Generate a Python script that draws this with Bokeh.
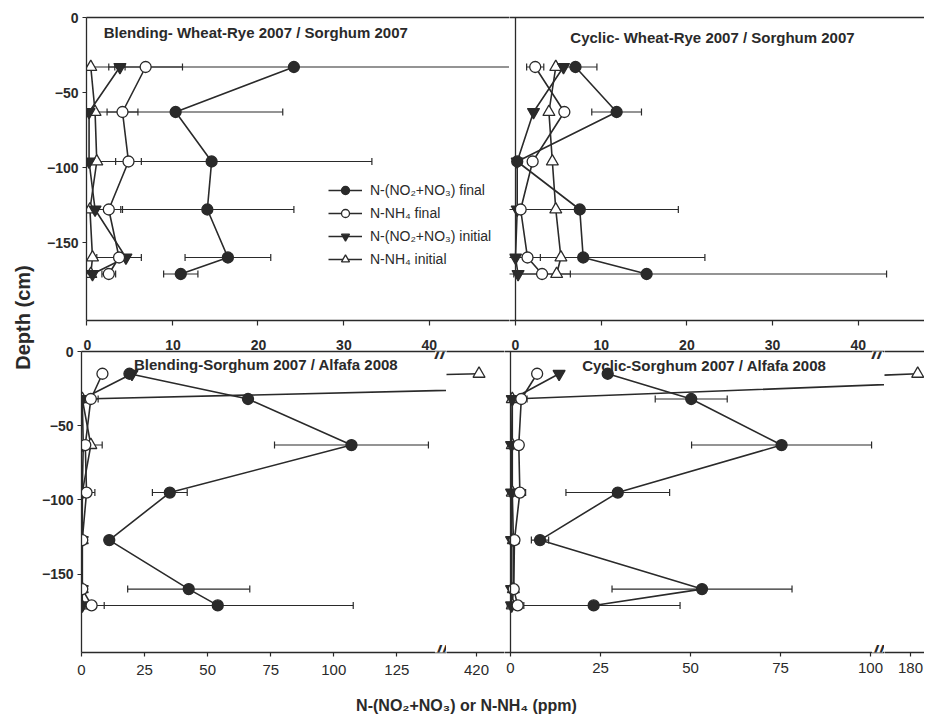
import math
from bokeh.plotting import figure
from bokeh.models import Range1d, LinearAxis, FixedTicker, Label, Span, Legend, LegendItem
from bokeh.layouts import row, column
from bokeh.embed import file_html
from bokeh.resources import INLINE

# ---------------- data ----------------
SERIES = ["N-(NO₂+NO₃) final", "N-NH₄ final", "N-(NO₂+NO₃) initial", "N-NH₄ initial"]
Y_LABEL = "Depth (cm)"
X_LABEL = "N-(NO₂+NO₃) or N-NH₄ (ppm)"
DEPTH_TICKS = [0, -50, -100, -150]
TOP_X_TICKS = [0, 10, 20, 30, 40]
BL_X_TICKS = [0, 25, 50, 75, 100, 125]
BL_BREAK_TICKS = [420]
BR_X_TICKS = [0, 25, 50, 75, 100]
BR_BREAK_TICKS = [180]

TOP_DEPTH = [-33, -63, -96, -128, -160, -171]
BOTTOM_DEPTH = [-15, -32, -63, -95, -127, -160, -171]

TL_TITLE = "Blending- Wheat-Rye 2007 / Sorghum 2007"
TL_NO3_FINAL = [24.2, 10.4, 14.6, 14.1, 16.5, 11.0]
TL_NO3_FINAL_ERR = [30.0, 12.5, 18.7, 10.1, 5.0, 2.0]
TL_NH4_FINAL = [6.9, 4.2, 4.9, 2.6, 3.8, 2.6]
TL_NH4_FINAL_ERR = [4.3, 1.8, 1.5, 1.6, 2.6, 0.8]
TL_NO3_INIT = [3.9, 0.3, 0.3, 1.0, 4.6, 0.7]
TL_NO3_INIT_ERR = [0.6, 0.0, 0.0, 0.0, 0.0, 0.0]
TL_NH4_INIT = [0.5, 1.0, 1.2, 0.4, 0.7, 0.5]
TL_NH4_INIT_ERR = [0.0, 0.0, 0.0, 0.0, 0.0, 0.0]

TR_TITLE = "Cyclic- Wheat-Rye 2007 / Sorghum 2007"
TR_NO3_FINAL = [7.0, 11.8, 0.2, 7.5, 7.9, 15.3]
TR_NO3_FINAL_ERR = [2.5, 2.9, 0.0, 11.5, 14.2, 28.0]
TR_NH4_FINAL = [2.3, 5.7, 2.0, 0.6, 1.4, 3.1]
TR_NH4_FINAL_ERR = [1.0, 0.0, 0.0, 0.0, 1.5, 3.3]
TR_NO3_INIT = [5.6, 2.1, 0.2, 0.2, 0.0, 0.3]
TR_NO3_INIT_ERR = [0.0, 0.0, 0.0, 0.0, 0.0, 0.0]
TR_NH4_INIT = [4.7, 3.9, 4.3, 4.7, 5.3, 4.8]
TR_NH4_INIT_ERR = [0.0, 0.0, 0.0, 0.0, 0.0, 0.0]

BL_TITLE = "Blending-Sorghum 2007 / Alfafa 2008"
BL_NO3_FINAL = [19.0, 66.0, 107.0, 35.0, 11.0, 42.5, 54.0]
BL_NO3_FINAL_ERR = [0.0, 0.0, 30.5, 6.9, 1.0, 24.2, 53.7]
BL_NH4_FINAL = [8.3, 3.7, 1.5, 2.0, 0.3, 0.3, 4.0]
BL_NH4_FINAL_ERR = [0.0, 2.9, 0.0, 3.3, 0.0, 0.0, 5.0]
BL_NO3_INIT = [20.0, 0.3, 0.7, 0.3, 0.3, 0.3, 0.3]
BL_NO3_INIT_ERR = [0.0, 0.0, 0.0, 0.0, 0.0, 0.0, 0.0]
BL_NH4_INIT = [421.0, 0.3, 3.7, 0.3, 0.3, 0.3, 0.0]
BL_NH4_INIT_ERR = [0.0, 0.0, 4.5, 0.0, 0.0, 0.0, 0.0]

BR_TITLE = "Cyclic-Sorghum 2007 / Alfafa 2008"
BR_NO3_FINAL = [27.0, 50.2, 75.3, 29.8, 8.2, 53.2, 23.1]
BR_NO3_FINAL_ERR = [0.0, 10.0, 25.0, 14.4, 2.4, 25.0, 24.0]
BR_NH4_FINAL = [7.4, 3.0, 2.3, 2.6, 1.1, 0.9, 2.0]
BR_NH4_FINAL_ERR = [0.0, 1.6, 0.0, 1.6, 0.0, 0.0, 1.7]
BR_NO3_INIT = [13.5, 0.5, 0.3, 0.3, 0.3, 0.3, 0.3]
BR_NO3_INIT_ERR = [0.0, 0.0, 0.0, 0.0, 0.0, 0.0, 0.0]
BR_NH4_INIT = [182.0, 0.5, 0.5, 0.5, 0.8, 0.8, 0.5]
BR_NH4_INIT_ERR = [0.0, 0.0, 0.0, 0.0, 0.0, 0.0, 0.0]

# ---------------- style / geometry ----------------
INK = "#2a2a2a"
FONT = "Liberation Sans"
MARKERS = [("circle", INK, 11), ("circle", "white", 11),
           ("inverted_triangle", INK, 12), ("triangle", "white", 12)]

TOP_SCALE = 8.57      # px per ppm, top panels
BL_SCALE = 2.53       # px per ppm, bottom-left
BR_SCALE = 3.6        # px per ppm, bottom-right
TOP_DEPTH_RANGE = (-202, 0)
BOT_DEPTH_RANGE = (-202.7, 0)
TOP_H, BOT_H, XLAB_H = 328, 352, 38
TOTAL_H = TOP_H + BOT_H + XLAB_H


def make_fig(width, height, xr, yr, mbl, mbt, mbb):
    p = figure(width=width, height=height, x_range=Range1d(*xr), y_range=Range1d(*yr),
               x_axis_type=None, y_axis_type=None, output_backend="svg",
               toolbar_location=None, min_border_left=mbl, min_border_right=0,
               min_border_top=mbt, min_border_bottom=mbb)
    p.outline_line_color = None
    p.background_fill_color = "white"
    p.border_fill_color = "white"
    return p


def style_axis(ax, size="14px", bold=True, tick_out=5, standoff=4):
    ax.axis_line_color = INK
    ax.axis_line_width = 1.3
    ax.major_tick_line_color = INK
    ax.major_tick_line_width = 1.2
    ax.major_tick_in = 0
    ax.major_tick_out = tick_out
    ax.minor_tick_line_color = None
    ax.major_label_text_font = FONT
    ax.major_label_text_font_size = size
    ax.major_label_text_font_style = "bold" if bold else "normal"
    ax.major_label_text_color = INK
    ax.major_label_standoff = standoff
    return ax


def add_border(p, side):
    ax = LinearAxis(ticker=FixedTicker(ticks=[]))
    style_axis(ax, tick_out=0, standoff=0)
    p.add_layout(ax, side)


def add_depth_axis(p):
    ax = LinearAxis(ticker=FixedTicker(ticks=DEPTH_TICKS))
    style_axis(ax, size="14px", bold=True, tick_out=4, standoff=4)
    p.add_layout(ax, "left")


def add_bottom_axis(p, ticks, size="15px", bold=False, tick_out=4, standoff=8, labels=True):
    ax = LinearAxis(ticker=FixedTicker(ticks=ticks))
    style_axis(ax, size=size, bold=bold, tick_out=tick_out, standoff=standoff)
    if not labels:
        ax.major_label_overrides = {t: "" for t in ticks}
    p.add_layout(ax, "below")


def draw_series(p, depth, values, errors, with_errors=True):
    if with_errors:
        for vals, errs in zip(values, errors):
            lo, hi, yy = [], [], []
            for v, e, d in zip(vals, errs, depth):
                if e > 0:
                    lo.append(v - e)
                    hi.append(v + e)
                    yy.append(d)
            if yy:
                p.segment(x0=lo, y0=yy, x1=hi, y1=yy, line_color=INK, line_width=1.1)
                p.scatter(x=lo + hi, y=yy + yy, marker="dash", angle=math.pi / 2, size=7,
                          line_color=INK, line_width=1.2)
    rends = [None] * 4
    for k in [3, 2, 1, 0]:
        marker, fill, size = MARKERS[k]
        ln = p.line(values[k], depth, line_color=INK, line_width=1.6)
        sc = p.scatter(values[k], depth, marker=marker, size=size, fill_color=fill,
                       line_color=INK, line_width=1.3)
        rends[k] = (ln, sc)
    return rends


def add_title(p, text, x, y):
    p.add_layout(Label(x=x, y=y, text=text, text_font=FONT, text_font_style="bold",
                       text_font_size="15px", text_color=INK, text_align="left",
                       text_baseline="middle"))


def add_break(p, x, x_offset):
    for yv in (p.y_range.start, p.y_range.end):
        p.add_layout(Label(x=x, y=yv, x_offset=x_offset, text="//", text_font=FONT,
                           text_font_style="bold italic", text_font_size="20px",
                           text_color=INK, text_align="center", text_baseline="middle",
                           background_fill_color="white"))


# ---------------- top-left ----------------
tl_w, tl_mbl = 471, 48
tl = make_fig(tl_w, TOP_H, (0, (tl_w - tl_mbl) / TOP_SCALE), TOP_DEPTH_RANGE, tl_mbl, 17, 8)
add_depth_axis(tl)
add_bottom_axis(tl, TOP_X_TICKS, tick_out=5, labels=False)
add_border(tl, "above")
tl_rends = draw_series(tl, TOP_DEPTH,
                       [TL_NO3_FINAL, TL_NH4_FINAL, TL_NO3_INIT, TL_NH4_INIT],
                       [TL_NO3_FINAL_ERR, TL_NH4_FINAL_ERR, TL_NO3_INIT_ERR, TL_NH4_INIT_ERR])
add_title(tl, TL_TITLE, 2.0, -10)
legend = Legend(items=[LegendItem(label=SERIES[k], renderers=list(tl_rends[k])) for k in range(4)],
                location=(242, 51), orientation="vertical", border_line_color=None,
                background_fill_alpha=0, padding=0, margin=0, spacing=3,
                glyph_height=20, glyph_width=34, label_standoff=8, label_height=20,
                label_text_font=FONT, label_text_font_size="14px", label_text_color=INK)
tl.add_layout(legend)

# ---------------- top-right ----------------
tr_w, tr_gap = 415, 6
tr_x0 = -tr_gap / TOP_SCALE
tr = make_fig(tr_w, TOP_H, (tr_x0, tr_x0 + tr_w / TOP_SCALE), TOP_DEPTH_RANGE, 0, 17, 8)
add_bottom_axis(tr, TOP_X_TICKS, tick_out=5, labels=False)
add_border(tr, "above")
tr.add_layout(Span(location=0, dimension="height", line_color=INK, line_width=1.3))
draw_series(tr, TOP_DEPTH,
            [TR_NO3_FINAL, TR_NH4_FINAL, TR_NO3_INIT, TR_NH4_INIT],
            [TR_NO3_FINAL_ERR, TR_NH4_FINAL_ERR, TR_NO3_INIT_ERR, TR_NH4_INIT_ERR])
add_title(tr, TR_TITLE, 6.4, -13)


def add_upper_labels(p, start, width_px):
    p.extra_x_ranges = {"upper": Range1d(start, start + width_px / TOP_SCALE)}
    ax = LinearAxis(x_range_name="upper", ticker=FixedTicker(ticks=TOP_X_TICKS))
    style_axis(ax, size="14px", bold=True, tick_out=0, standoff=2)
    p.add_layout(ax, "above")


BL_VALUES = [BL_NO3_FINAL, BL_NH4_FINAL, BL_NO3_INIT, BL_NH4_INIT]
BL_ERRORS = [BL_NO3_FINAL_ERR, BL_NH4_FINAL_ERR, BL_NO3_INIT_ERR, BL_NH4_INIT_ERR]
BR_VALUES = [BR_NO3_FINAL, BR_NH4_FINAL, BR_NO3_INIT, BR_NH4_INIT]
BR_ERRORS = [BR_NO3_FINAL_ERR, BR_NH4_FINAL_ERR, BR_NO3_INIT_ERR, BR_NH4_INIT_ERR]

# ---------------- bottom-left (main + break) ----------------
bl_w, bl_mbl = 408, 42
bl = make_fig(bl_w, BOT_H, (0, (bl_w - bl_mbl) / BL_SCALE), BOT_DEPTH_RANGE, bl_mbl, 20, 28)
add_depth_axis(bl)
add_bottom_axis(bl, BL_X_TICKS)
add_upper_labels(bl, -6 / TOP_SCALE, bl_w - bl_mbl)
draw_series(bl, BOTTOM_DEPTH, BL_VALUES, BL_ERRORS)
add_title(bl, BL_TITLE, 20.8, -8.5)
add_break(bl, bl.x_range.end, -6)

blb_w = 58
blb_x0 = BL_BREAK_TICKS[0] - 30 / BL_SCALE
blb = make_fig(blb_w, BOT_H, (blb_x0, blb_x0 + blb_w / BL_SCALE), BOT_DEPTH_RANGE, 0, 20, 28)
add_bottom_axis(blb, BL_BREAK_TICKS)
add_border(blb, "above")
draw_series(blb, BOTTOM_DEPTH, BL_VALUES, BL_ERRORS, with_errors=False)

# ---------------- bottom-right (main + break) ----------------
br_w, br_gap = 380, 6
br_x0 = -br_gap / BR_SCALE
br = make_fig(br_w, BOT_H, (br_x0, br_x0 + br_w / BR_SCALE), BOT_DEPTH_RANGE, 0, 23, 25)
add_bottom_axis(br, BR_X_TICKS, standoff=6)
add_upper_labels(br, -11 / TOP_SCALE, br_w)
br.add_layout(Span(location=0, dimension="height", line_color=INK, line_width=1.3))
draw_series(br, BOTTOM_DEPTH, BR_VALUES, BR_ERRORS)
add_title(br, BR_TITLE, 19.9, -9.5)
add_break(br, br.x_range.end, -7)

brb_w = 40
brb_x0 = BR_BREAK_TICKS[0] - 26 / BR_SCALE
brb = make_fig(brb_w, BOT_H, (brb_x0, brb_x0 + brb_w / BR_SCALE), BOT_DEPTH_RANGE, 0, 23, 25)
add_bottom_axis(brb, BR_BREAK_TICKS, standoff=6)
add_border(brb, "above")
draw_series(brb, BOTTOM_DEPTH, BR_VALUES, BR_ERRORS, with_errors=False)

# ---------------- shared axis titles ----------------
ylab = figure(width=38, height=TOTAL_H, x_range=Range1d(0, 38), y_range=Range1d(0, TOTAL_H),
              x_axis_type=None, y_axis_type=None, output_backend="svg",
              toolbar_location=None, min_border=0)
ylab.outline_line_color = None
ylab.add_layout(Label(x=22, y=TOTAL_H - 317, text=Y_LABEL, angle=math.pi / 2,
                      text_align="center", text_baseline="middle", text_font=FONT,
                      text_font_style="bold", text_font_size="20px", text_color=INK))

xlab = figure(width=886, height=XLAB_H, x_range=Range1d(0, 886), y_range=Range1d(0, XLAB_H),
              x_axis_type=None, y_axis_type=None, output_backend="svg",
              toolbar_location=None, min_border=0)
xlab.outline_line_color = None
xlab.add_layout(Label(x=428, y=XLAB_H - 25, text=X_LABEL, text_align="center",
                      text_baseline="middle", text_font=FONT, text_font_style="bold",
                      text_font_size="16px", text_color=INK))

layout = row(ylab, column(row(tl, tr), row(bl, blb, br, brb), xlab))

open("out.html", "w").write(file_html(layout, INLINE))
